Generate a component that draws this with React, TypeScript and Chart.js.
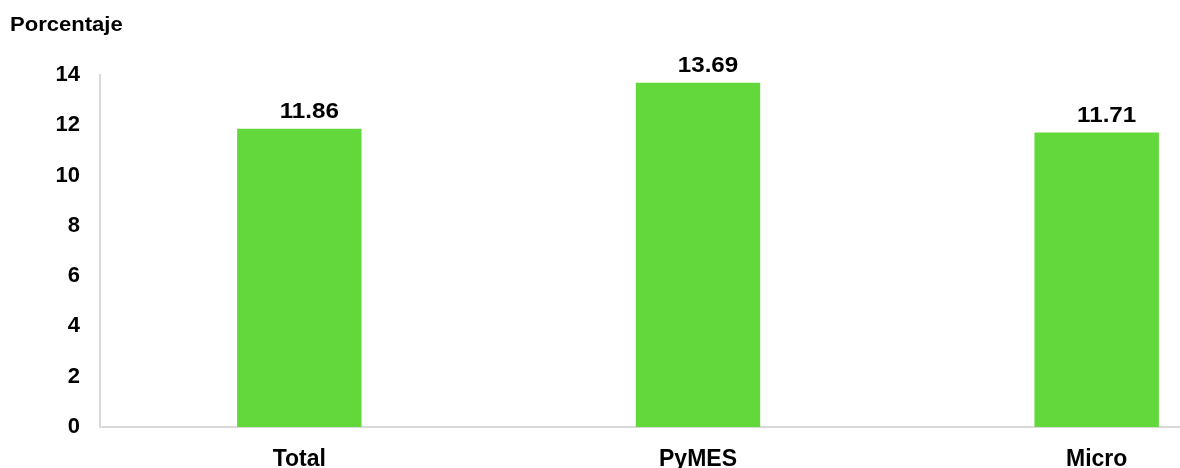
import React, { useEffect, useRef } from "react";
import { Chart, registerables } from "chart.js";

Chart.register(...registerables);

const categories = ["Total", "PyMES", "Micro"];
const values = [11.86, 13.69, 11.71];
const yTicks = [0, 2, 4, 6, 8, 10, 12, 14];
const yTitle = "Porcentaje";

const FONT = "'Liberation Sans', Arial, sans-serif";
const BAR_COLOR = "#62d83a";
const AXIS_COLOR = "#d9d9d9";

const valueLabels = {
  id: "valueLabels",
  afterDatasetsDraw(chart: any) {
    const { ctx } = chart;
    const meta = chart.getDatasetMeta(0);
    meta.data.forEach((bar: any, i: number) => {
      ctx.save();
      ctx.font = `bold 22px ${FONT}`;
      ctx.fillStyle = "#000";
      ctx.textAlign = "center";
      ctx.textBaseline = "bottom";
      ctx.translate(bar.x + 10, bar.y - 6);
      ctx.scale(1.1, 1);
      ctx.fillText(values[i].toFixed(2), 0, 0);
      ctx.restore();
    });
  },
};

const titlePlugin = {
  id: "yTitle",
  afterDraw(chart: any) {
    const { ctx } = chart;
    ctx.save();
    ctx.font = `bold 21px ${FONT}`;
    ctx.fillStyle = "#000";
    ctx.textAlign = "left";
    ctx.textBaseline = "middle";
    ctx.translate(10, 25);
    ctx.scale(1.05, 1);
    ctx.fillText(yTitle, 0, 0);
    ctx.restore();
  },
};

export default function App() {
  const ref = useRef<HTMLCanvasElement>(null);
  useEffect(() => {
    document.body.style.margin = "0";
    const chart = new Chart(ref.current!, {
      type: "bar",
      data: {
        labels: categories,
        datasets: [
          {
            data: values,
            backgroundColor: BAR_COLOR,
            barPercentage: 0.312,
            categoryPercentage: 1,
          },
        ],
      },
      options: {
        animation: false,
        responsive: false,
        layout: { padding: { top: 75, left: 0, right: 0, bottom: 0 } },
        plugins: { legend: { display: false }, tooltip: { enabled: false } },
        scales: {
          x: {
            offset: true,
            grid: { display: false, drawTicks: false },
            border: { display: true, color: AXIS_COLOR, width: 2 },
            ticks: {
              color: "#000",
              font: { family: FONT, size: 23, weight: "bold" },
              padding: 19,
            },
            afterFit(scale: any) {
              scale.height = 41;
            },
          },
          y: {
            min: 0,
            max: 14,
            afterBuildTicks(scale: any) {
              scale.ticks = yTicks.map((v) => ({ value: v }));
            },
            grid: { display: false, drawTicks: false },
            border: { display: true, color: AXIS_COLOR, width: 2 },
            ticks: {
              color: "#000",
              font: { family: FONT, size: 22, weight: "bold" },
              padding: 20,
            },
            afterFit(scale: any) {
              scale.width = 100;
            },
          },
        },
      },
      plugins: [valueLabels, titlePlugin],
    });
    return () => chart.destroy();
  }, []);
  return (
    <div style={{ position: "relative", width: 1180, height: 468, overflow: "hidden" }}>
      <canvas ref={ref} width={1296} height={468} style={{ display: "block" }} />
    </div>
  );
}
